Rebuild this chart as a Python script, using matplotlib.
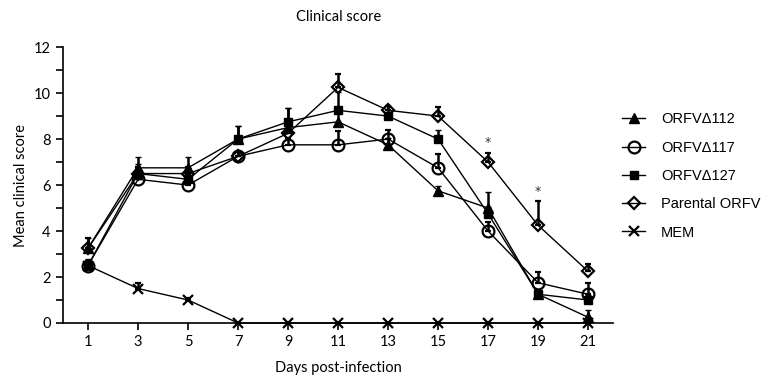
import numpy as np
import matplotlib.pyplot as plt
from matplotlib.lines import Line2D
from matplotlib.ticker import MultipleLocator

days = [1, 3, 5, 7, 9, 11, 13, 15, 17, 19, 21]

# mean clinical scores
d112 = [3.25, 6.75, 6.75, 8.0, 8.5, 8.75, 7.75, 5.75, 5.0, 1.25, 0.25]
d117 = [2.5, 6.25, 6.0, 7.25, 7.75, 7.75, 8.0, 6.75, 4.0, 1.75, 1.25]
d127 = [2.5, 6.5, 6.25, 8.0, 8.75, 9.25, 9.0, 8.0, 4.75, 1.25, 1.0]
parental = [3.25, 6.5, 6.5, 7.25, 8.25, 10.25, 9.25, 9.0, 7.0, 4.25, 2.25]
mem = [2.5, 1.5, 1.0, 0, 0, 0, 0, 0, 0, 0, 0]

# upper error (SEM)
e112 = [0.45, 0.45, 0.45, 0.55, 0.85, 0.5, 0.3, 0.2, 0.7, 0.2, 0.3]
e117 = [0.2, 0.3, 0.3, 0.2, 0.3, 0.6, 0.4, 0.6, 0.4, 0.45, 0.5]
e127 = [0.3, 0.4, 0.4, 0.55, 0.6, 0.8, 0.45, 0.4, 0.3, 0.2, 0.2]
epar = [0.45, 0.3, 0.3, 0.2, 0.4, 0.6, 0.2, 0.4, 0.4, 1.05, 0.3]
emem = [0.1, 0.25, 0.1, 0, 0, 0, 0, 0, 0, 0, 0]

signif_days = [17, 19]

series = [
    ('ORFV\u0394112', d112, e112, '^', 'k', 7.5),
    ('ORFV\u0394117', d117, e117, 'o', 'none', 8.5),
    ('ORFV\u0394127', d127, e127, 's', 'k', 6),
    ('Parental ORFV', parental, epar, 'D', 'none', 6),
    ('MEM', mem, emem, 'x', 'k', 7.5),
]

tickfont = 'Lato'

fig = plt.figure(figsize=(7.83, 3.8), dpi=100)
ax = fig.add_axes([0.0805, 0.15, 0.7025, 0.726])

handles = []
for label, vals, err, mk, fc, ms in series:
    lo = np.zeros(len(err))
    mew = 1.6 if fc == 'none' or mk == 'x' else 1.0
    ax.errorbar(days, vals, yerr=[lo, err], color='k', lw=1.0,
                marker=mk, markersize=ms, markerfacecolor=fc,
                markeredgecolor='k', markeredgewidth=mew,
                elinewidth=1.8, capsize=2.5, capthick=1.8,
                clip_on=False, zorder=3)
    handles.append(Line2D([], [], color='k', lw=1.0, marker=mk, markersize=ms,
                          markerfacecolor=fc, markeredgecolor='k',
                          markeredgewidth=mew, label=label))

# asterisks above parental error bars
for dd in signif_days:
    i = days.index(dd)
    ax.text(dd, parental[i] + epar[i] + 0.15, '*', ha='center', va='bottom',
            fontsize=9, color='#333333')

ax.set_xlim(0, 22)
ax.set_ylim(0, 12)
ax.set_xticks(days)
ax.yaxis.set_major_locator(MultipleLocator(2))
ax.yaxis.set_minor_locator(MultipleLocator(1))
ax.spines['top'].set_visible(False)
ax.spines['right'].set_visible(False)
ax.spines['left'].set_linewidth(1.2)
ax.spines['bottom'].set_linewidth(1.2)
ax.tick_params(axis='both', which='major', length=5, width=1.2,
               labelsize=10.5, pad=4)
ax.tick_params(axis='y', which='minor', length=5, width=1.2)
for lab in ax.get_xticklabels() + ax.get_yticklabels():
    lab.set_fontfamily(tickfont)

ax.set_xlabel('Days post-infection', fontfamily=tickfont, fontsize=10.5, labelpad=8)
ax.set_ylabel('Mean clinical score', fontfamily=tickfont, fontsize=10.5, labelpad=4)
fig.text(0.432, 0.955, 'Clinical score', ha='center', va='center',
         fontfamily=tickfont, fontsize=10.5)

leg = ax.legend(handles=handles, loc='upper left', bbox_to_anchor=(1.0, 0.795),
                frameon=False, prop={'family': 'Liberation Sans', 'size': 10.5},
                handlelength=1.6, labelspacing=0.98, handletextpad=1.1,
                borderaxespad=0.2)

fig.savefig('out.png', dpi=100)
plt.close()
